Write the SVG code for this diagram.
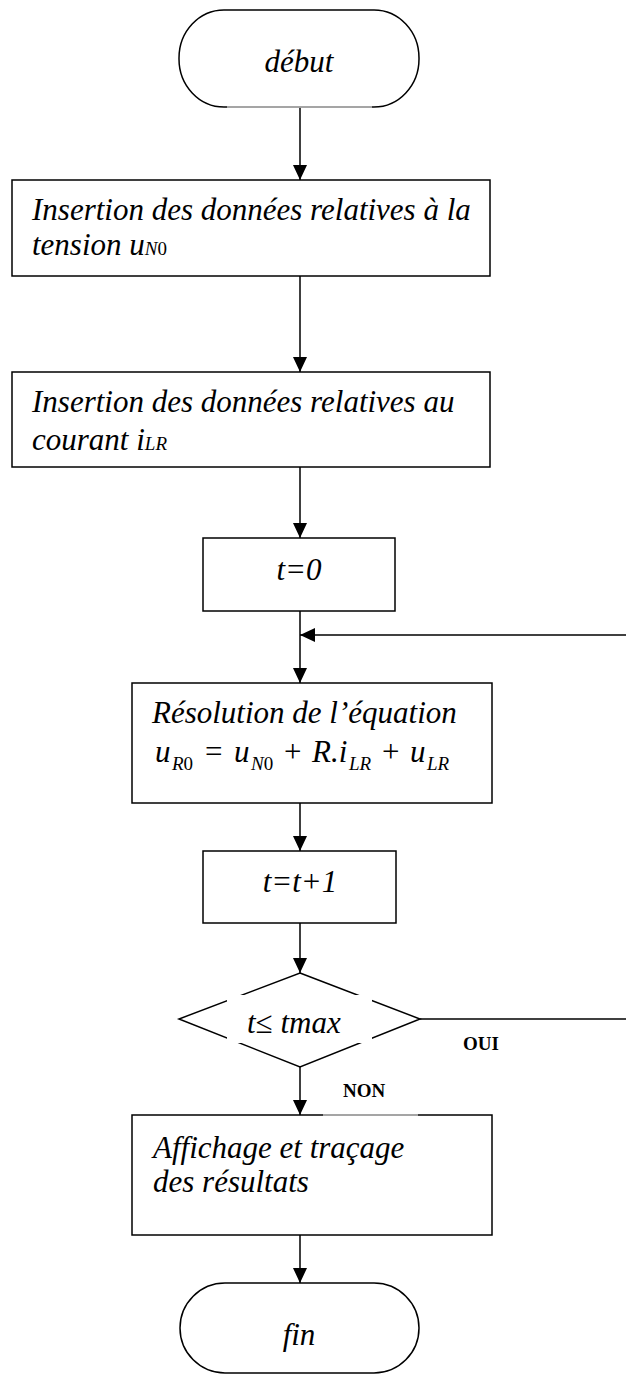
<svg xmlns="http://www.w3.org/2000/svg" width="626" height="1374" viewBox="0 0 626 1374">
<style>
.shape{fill:#fff;stroke:#000;stroke-width:1.5}
.conn{fill:none;stroke:#000;stroke-width:1.5}
.t{font-family:"Liberation Serif","Times New Roman",serif;font-style:italic;font-size:31px;fill:#000}
.r{font-style:normal}
.sub{font-size:19px}
.lbl{font-family:"Liberation Serif","Times New Roman",serif;font-weight:bold;font-size:19px;fill:#000}
.ghost{stroke:#c8c8c8;stroke-width:1.5}
</style>
<defs>
<marker id="ah" markerUnits="userSpaceOnUse" markerWidth="15" markerHeight="14" refX="15" refY="7" orient="auto">
<path d="M0,0 L15,7 L0,14 z" fill="#000"/>
</marker>
</defs>
<rect width="626" height="1374" fill="#fff"/>

<g id="connectors">
<path class="conn" d="M300,107 V180" marker-end="url(#ah)"/>
<path class="conn" d="M300,276 V372" marker-end="url(#ah)"/>
<path class="conn" d="M300,467 V538" marker-end="url(#ah)"/>
<path class="conn" d="M300,611 V683" marker-end="url(#ah)"/>
<path class="conn" d="M626,635 H300" marker-end="url(#ah)"/>
<path class="conn" d="M300,803 V851" marker-end="url(#ah)"/>
<path class="conn" d="M300,923 V973" marker-end="url(#ah)"/>
<path class="conn" d="M420,1019 H626"/>
<path class="conn" d="M300,1067 V1115" marker-end="url(#ah)"/>
<path class="conn" d="M300,1235 V1283" marker-end="url(#ah)"/>
</g>

<g id="debut">
<rect class="shape" x="179" y="10" width="240" height="97" rx="45" ry="48"/>
<line class="ghost" x1="227" y1="107" x2="372" y2="107"/>
<text class="t" x="299" y="72" text-anchor="middle">début</text>
</g>

<g id="insertion-tension">
<rect class="shape" x="12" y="180" width="478" height="96"/>
<text class="t" x="32" y="220">Insertion des données relatives à la</text>
<text class="t" x="32" y="255">tension u<tspan class="sub">N</tspan><tspan class="sub r">0</tspan></text>
</g>

<g id="insertion-courant">
<rect class="shape" x="12" y="372" width="478" height="95"/>
<text class="t" x="32" y="412">Insertion des données relatives au</text>
<text class="t" x="32" y="450">courant i<tspan class="sub">LR</tspan></text>
</g>

<g id="t0">
<rect class="shape" x="203" y="538" width="192" height="73"/>
<text class="t" x="299" y="580" text-anchor="middle">t=0</text>
</g>

<g id="resolution">
<rect class="shape" x="132" y="683" width="360" height="120"/>
<text class="t" x="152" y="723">Résolution de l’équation</text>
<text class="t" y="762">
<tspan x="155">u</tspan>
<tspan class="sub" x="172" y="770">R</tspan><tspan class="sub r">0</tspan>
<tspan class="r" x="205" y="762">=</tspan>
<tspan x="234">u</tspan>
<tspan class="sub" x="251" y="770">N</tspan><tspan class="sub r">0</tspan>
<tspan class="r" x="284" y="762">+</tspan>
<tspan x="312">R.i</tspan>
<tspan class="sub" x="349" y="770">LR</tspan>
<tspan class="r" x="382" y="762">+</tspan>
<tspan x="410">u</tspan>
<tspan class="sub" x="427" y="770">LR</tspan>
</text>
</g>

<g id="increment">
<rect class="shape" x="203" y="851" width="193" height="72"/>
<text class="t" x="300" y="892" text-anchor="middle">t=t+1</text>
</g>

<g id="test">
<polygon class="shape" points="300,973 420,1019 300,1067 179,1019"/>
<rect x="227" y="995" width="145" height="48" fill="#fff"/>
<text class="t" x="247" y="1033">t<tspan class="r">≤</tspan> tmax</text>
</g>

<g id="affichage">
<rect class="shape" x="132" y="1115" width="360" height="120"/>
<line class="ghost" x1="323" y1="1115" x2="418" y2="1115"/>
<text class="t" x="153" y="1158">Affichage et traçage</text>
<text class="t" x="153" y="1192">des résultats</text>
</g>

<g id="fin">
<rect class="shape" x="180" y="1283" width="239" height="90" rx="45" ry="45"/>
<text class="t" x="299" y="1345" text-anchor="middle">fin</text>
</g>

<g id="labels">
<text class="lbl" x="463" y="1050">OUI</text>
<text class="lbl" x="343" y="1097">NON</text>
</g>
</svg>
